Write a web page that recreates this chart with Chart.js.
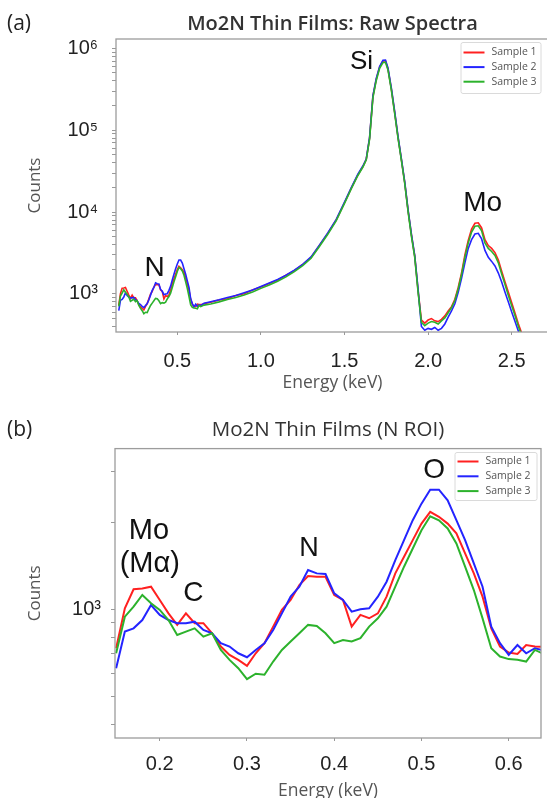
<!DOCTYPE html>
<html>
<head>
<meta charset="utf-8">
<script src="https://cdn.jsdelivr.net/npm/chart.js@4.4.0/dist/chart.umd.min.js"></script>
<style>
  html, body { margin: 0; padding: 0; background: #fff; overflow: hidden; }
  #wrap { position: relative; width: 547px; height: 798px; overflow: hidden; }
  canvas { position: absolute; left: 0; }
  #rawChart { top: 0; }
  #roiChart { top: 400px; }
</style>
</head>
<body>
<div id="wrap">
  <canvas id="rawChart" width="549" height="400"></canvas>
  <canvas id="roiChart" width="547" height="402"></canvas>
</div>
<script>
const sampleNames = ['Sample 1', 'Sample 2', 'Sample 3'];
const sampleColors = ['rgb(255,32,32)', 'rgb(36,36,255)', 'rgb(44,178,44)'];

// N ROI window (0.01 keV channels), also the low end of the raw spectrum
const roiEnergy = [0.15, 0.16, 0.17, 0.18, 0.19, 0.20, 0.21, 0.22, 0.23, 0.24,
                   0.25, 0.26, 0.27, 0.28, 0.29, 0.30, 0.31, 0.32, 0.33, 0.34,
                   0.35, 0.36, 0.37, 0.38, 0.39, 0.40, 0.41, 0.42, 0.43, 0.44,
                   0.45, 0.46, 0.47, 0.48, 0.49, 0.50, 0.51, 0.52, 0.53, 0.54,
                   0.55, 0.56, 0.57, 0.58, 0.59, 0.60, 0.61, 0.62, 0.63, 0.64];
const roiSample1 = [733, 1008, 1173, 1180, 1198, 1077, 968, 883, 968, 895,
                    895, 826, 743, 695, 668, 637, 704, 763, 871, 995,
                    1077, 1214, 1304, 1297, 1297, 1121, 1077, 871, 956, 931,
                    968, 1106, 1332, 1521, 1737, 1982, 2177, 2092, 1982, 1833,
                    1562, 1332, 1106, 859, 743, 708, 700, 752, 743, 740];
const roiSample2 = [625, 837, 859, 918, 1035, 956, 918, 895, 895, 906,
                    848, 826, 763, 743, 704, 682, 723, 763, 848, 968,
                    1106, 1198, 1368, 1332, 1325, 1136, 1077, 981, 1000, 1008,
                    1106, 1246, 1481, 1737, 2036, 2324, 2597, 2597, 2388, 2036,
                    1737, 1442, 1198, 871, 763, 695, 752, 704, 733, 720];
const roiSample3 = [704, 943, 1021, 1121, 1049, 995, 918, 815, 837, 859,
                    804, 826, 723, 668, 625, 573, 598, 593, 659, 723,
                    773, 826, 883, 876, 826, 763, 783, 773, 794, 871,
                    931, 1021, 1198, 1405, 1625, 1880, 2101, 2036, 1907, 1691,
                    1405, 1166, 930, 733, 686, 672, 668, 659, 723, 700];

// rest of the raw spectrum: background, Si K and Mo L
const highEnergy = [0.66, 0.70, 0.75, 0.80, 0.85, 0.90, 0.95, 1.00, 1.05, 1.10,
                    1.15, 1.20, 1.25, 1.30, 1.35, 1.40, 1.45, 1.50, 1.54, 1.58,
                    1.61, 1.63, 1.65, 1.67, 1.69, 1.71, 1.73, 1.745, 1.76, 1.78,
                    1.80, 1.82, 1.84, 1.86, 1.88, 1.90, 1.92, 1.94, 1.96, 1.98,
                    2.00, 2.02, 2.04, 2.06, 2.08, 2.10, 2.12, 2.14, 2.16, 2.18,
                    2.20, 2.22, 2.24, 2.26, 2.28, 2.30, 2.32, 2.34, 2.36, 2.38,
                    2.40, 2.42, 2.44, 2.46, 2.48, 2.50, 2.52, 2.54, 2.56, 2.58];
const highSample1 = [760, 790, 845, 875, 955, 1005, 1115, 1215, 1345, 1475,
                     1690, 1925, 2290, 2790, 3900, 5500, 8000, 13000, 19500, 28500,
                     36000, 44000, 80000, 260000, 420000, 590000, 700000, 705000, 560000, 320000,
                     165000, 82000, 44000, 23000, 10500, 5300, 2900, 1100, 480, 440,
                     480, 500, 470, 460, 490, 540, 620, 700, 860, 1200,
                     1800, 3000, 4500, 6200, 7300, 7400, 6400, 4600, 3900, 3600,
                     3200, 2600, 1900, 1400, 1050, 780, 580, 430, 330, 250];
const highSample2 = [770, 805, 850, 905, 960, 1035, 1120, 1235, 1360, 1505,
                     1690, 1955, 2300, 2835, 3950, 5550, 8100, 13200, 19800, 29000,
                     36500, 44500, 82000, 265000, 430000, 600000, 715000, 720000, 575000, 330000,
                     170000, 84000, 45000, 23500, 10700, 5400, 2950, 1150, 400, 360,
                     380, 370, 390, 360, 380, 430, 520, 620, 760, 1050,
                     1550, 2400, 3600, 4600, 5400, 5500, 4700, 3400, 2800, 2500,
                     2200, 1800, 1400, 1050, 800, 600, 460, 350, 270, 210];
const highSample3 = [730, 755, 800, 855, 905, 970, 1055, 1170, 1285, 1430,
                     1615, 1870, 2215, 2730, 3800, 5350, 7800, 12800, 19200, 28000,
                     35500, 43500, 78000, 250000, 405000, 570000, 670000, 675000, 545000, 310000,
                     160000, 80000, 43000, 22500, 10200, 5100, 2800, 1050, 450, 410,
                     440, 460, 450, 430, 470, 510, 590, 680, 830, 1150,
                     1720, 2800, 4200, 5700, 6700, 6800, 5900, 4200, 3600, 3300,
                     2950, 2400, 1750, 1300, 960, 720, 540, 400, 310, 240];

const rawTicksX = [0.5, 1.0, 1.5, 2.0, 2.5];
const roiTicksX = [0.2, 0.3, 0.4, 0.5, 0.6];

const rawPeakLabels = [
    { text: 'Si', x: 1.602, y: 690000, size: 26 },
    { text: 'Mo', x: 2.326, y: 12700, size: 28 },
    { text: 'N', x: 0.365, y: 2050, size: 28 }
];
const roiPeakLabels = [
    { text: 'Mo', x: 0.1876, y: 1866, size: 29 },
    { text: '(M\u03b1)', x: 0.1886, y: 1435, size: 29 },
    { text: 'C', x: 0.2384, y: 1139, size: 28 },
    { text: 'N', x: 0.371, y: 1630, size: 27 },
    { text: 'O', x: 0.5145, y: 3033, size: 28 }
];

function toPoints(xs, ys) {
    return xs.map((x, i) => ({ x: x, y: ys[i] }));
}

function makeDatasets(xs, series, width) {
    return series.map((ys, i) => ({
        label: sampleNames[i],
        data: toPoints(xs, ys),
        borderColor: sampleColors[i],
        borderWidth: width,
        pointRadius: 0,
        tension: 0,
        fill: false,
        order: 3 - i
    }));
}

// log axis: every 1..9 x 10^k as a tick, only the decades labelled
function logTicks(min, max) {
    const ticks = [];
    for (let e = Math.floor(Math.log10(min)); e <= Math.ceil(Math.log10(max)); e++) {
        for (let m = 1; m < 10; m++) {
            const v = m * Math.pow(10, e);
            if (v >= min && v <= max) ticks.push({ value: v });
        }
    }
    return ticks;
}

const sup = { '0': '\u2070', '1': '\u00b9', '2': '\u00b2', '3': '\u00b3', '4': '\u2074',
              '5': '\u2075', '6': '\u2076', '7': '\u2077', '8': '\u2078', '9': '\u2079' };
function decadeLabel(v) {
    const e = Math.log10(v);
    if (Math.abs(e - Math.round(e)) > 1e-6) return '';
    return '10' + String(Math.round(e)).split('').map(c => sup[c]).join('');
}

const framePlugin = {
    id: 'frame',
    afterDatasetsDraw(chart) {
        const a = chart.chartArea;
        const ctx = chart.ctx;
        ctx.save();
        ctx.strokeStyle = '#9c9c9c';
        ctx.lineWidth = 1.3;
        ctx.strokeRect(a.left, a.top, a.right - a.left, a.bottom - a.top);
        ctx.restore();
    }
};

const peakLabelPlugin = {
    id: 'peakLabels',
    afterDatasetsDraw(chart, args, opts) {
        const ctx = chart.ctx;
        const x = chart.scales.x, y = chart.scales.y;
        ctx.save();
        ctx.fillStyle = '#111';
        ctx.textAlign = 'center';
        ctx.textBaseline = 'middle';
        (opts.items || []).forEach(p => {
            ctx.font = p.size + 'px "Liberation Sans", Arial, sans-serif';
            ctx.fillText(p.text, x.getPixelForValue(p.x), y.getPixelForValue(p.y));
        });
        ctx.restore();
    }
};

const boxLegendPlugin = {
    id: 'boxLegend',
    afterDraw(chart, args, o) {
        if (!o.left) return;
        const ctx = chart.ctx;
        ctx.save();
        ctx.fillStyle = 'rgba(255,255,255,0.85)';
        ctx.strokeStyle = '#dadada';
        ctx.lineWidth = 1;
        ctx.beginPath();
        ctx.roundRect(o.left + 0.5, o.top + 0.5, o.width, o.height, 2);
        ctx.fill();
        ctx.stroke();
        ctx.font = '10.5px "Open Sans", sans-serif';
        ctx.textBaseline = 'middle';
        chart.data.datasets.forEach((ds, i) => {
            const yy = o.top + o.first + i * o.step;
            ctx.strokeStyle = ds.borderColor;
            ctx.lineWidth = 2;
            ctx.beginPath();
            ctx.moveTo(o.left + 3, yy);
            ctx.lineTo(o.left + 24, yy);
            ctx.stroke();
            ctx.fillStyle = '#555';
            ctx.fillText(ds.label, o.left + 31, yy);
        });
        ctx.restore();
    }
};

const panelTagPlugin = {
    id: 'panelTag',
    afterDraw(chart, args, o) {
        if (!o.text) return;
        const ctx = chart.ctx;
        ctx.save();
        ctx.fillStyle = '#222';
        ctx.font = '21px "Open Sans", sans-serif';
        ctx.textBaseline = 'middle';
        ctx.fillText(o.text, o.x, o.y);
        ctx.restore();
    }
};

function makeOptions(cfg) {
    return {
        responsive: false,
        animation: false,
        layout: { padding: { left: 0, right: cfg.rightPad, top: 0, bottom: 0 } },
        plugins: {
            legend: { display: false },
            tooltip: { enabled: false },
            title: {
                display: true,
                text: cfg.title,
                fullSize: false,
                color: '#333',
                font: { family: 'Open Sans', size: cfg.titleSize, weight: cfg.titleWeight, lineHeight: 1.2 },
                padding: cfg.titlePad
            },
            peakLabels: { items: cfg.peaks },
            boxLegend: cfg.legend,
            panelTag: cfg.tag
        },
        scales: {
            x: {
                type: 'linear',
                min: cfg.xMin,
                max: cfg.xMax,
                afterFit: s => { s.height = cfg.xHeight; },
                afterBuildTicks: s => { s.ticks = cfg.xTicks.map(v => ({ value: v })); },
                grid: { drawOnChartArea: false, tickLength: 3, color: '#999', tickColor: '#999' },
                border: { display: false },
                ticks: {
                    autoSkip: false,
                    maxRotation: 0,
                    padding: cfg.xTickPad,
                    color: '#222',
                    font: { family: 'Liberation Sans', size: 20 },
                    callback: v => v.toFixed(1)
                },
                title: {
                    display: true,
                    text: 'Energy (keV)',
                    color: '#555',
                    font: { family: 'Open Sans', size: 17.5, lineHeight: 1.2 },
                    padding: { top: 0, bottom: cfg.xTitlePad }
                }
            },
            y: {
                type: 'logarithmic',
                min: cfg.yMin,
                max: cfg.yMax,
                afterFit: s => { s.width = cfg.yWidth; },
                afterBuildTicks: s => { s.ticks = logTicks(cfg.yMin, cfg.yMax); },
                grid: { drawOnChartArea: false, tickLength: 4, color: '#999', tickColor: '#999' },
                border: { display: false },
                ticks: {
                    autoSkip: false,
                    padding: cfg.yTickPad,
                    color: '#222',
                    font: { family: 'Liberation Sans', size: 20 },
                    callback: v => decadeLabel(v)
                },
                title: {
                    display: true,
                    text: 'Counts',
                    color: '#555',
                    font: { family: 'Open Sans', size: 17, lineHeight: 1.2 },
                    padding: { top: 25, bottom: 0 }
                }
            }
        }
    };
}

document.addEventListener('DOMContentLoaded', function() {
    const rawEnergy = roiEnergy.concat(highEnergy);
    const rawSeries = [
        roiSample1.concat(highSample1),
        roiSample2.concat(highSample2),
        roiSample3.concat(highSample3)
    ];

    new Chart(document.getElementById('rawChart'), {
        type: 'line',
        data: { datasets: makeDatasets(rawEnergy, rawSeries, 1.6) },
        options: makeOptions({
            title: 'Mo2N Thin Films: Raw Spectra',
            titleSize: 20,
            titleWeight: '600',
            titlePad: { top: 12, bottom: 3 },
            rightPad: 0,
            xMin: 0.1334, xMax: 2.723, xTicks: rawTicksX,
            yMin: 343, yMax: 1.3e6,
            xHeight: 68, yWidth: 116,
            xTickPad: 14, yTickPad: 14, xTitlePad: 6,
            peaks: rawPeakLabels,
            legend: { left: 460.5, top: 42, width: 80, height: 51, first: 10.5, step: 14.6 },
            tag: { text: '(a)', x: 7, y: 24 }
        }),
        plugins: [framePlugin, peakLabelPlugin, boxLegendPlugin, panelTagPlugin]
    });

    new Chart(document.getElementById('roiChart'), {
        type: 'line',
        data: { datasets: makeDatasets(roiEnergy, [roiSample1, roiSample2, roiSample3], 2) },
        options: makeOptions({
            title: 'Mo2N Thin Films (N ROI)',
            titleSize: 20.5,
            titleWeight: 'normal',
            titlePad: { top: 18, bottom: 6 },
            rightPad: 6,
            xMin: 0.1487, xMax: 0.637, xTicks: roiTicksX,
            yMin: 358, yMax: 3606,
            xHeight: 64, yWidth: 115,
            xTickPad: 11, yTickPad: 10, xTitlePad: 0,
            peaks: roiPeakLabels,
            legend: { left: 454.5, top: 52, width: 82, height: 48, first: 9.5, step: 14.8 },
            tag: { text: '(b)', x: 7, y: 30 }
        }),
        plugins: [framePlugin, peakLabelPlugin, boxLegendPlugin, panelTagPlugin]
    });
});
</script>
</body>
</html>
